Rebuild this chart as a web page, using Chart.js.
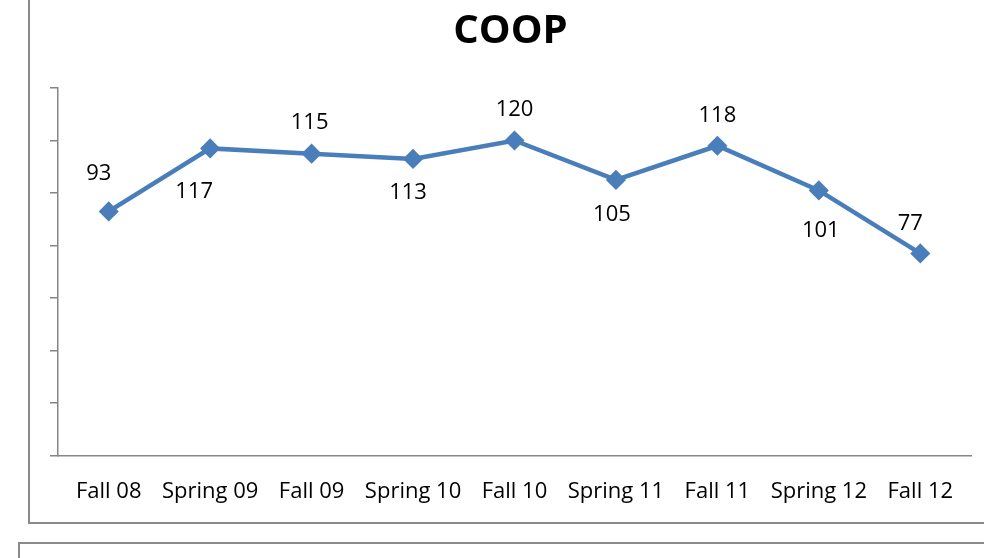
<!DOCTYPE html>
<html>
<head>
<meta charset="utf-8">
<script src="https://cdn.jsdelivr.net/npm/chart.js@4/dist/chart.umd.min.js"></script>
<style>
    html, body { margin: 0; padding: 0; background: #fff; overflow: hidden; }
    .frame { position: absolute; border: 2px solid #8a8a8a; background: transparent; }
    #wrap { position: absolute; left: 0; top: 0; width: 984px; height: 558px; }
</style>
</head>
<body>
<div class="frame" style="left:28px; top:-10px; width:1000px; height:530px;"></div>
<div class="frame" style="left:18px; top:542px; width:1000px; height:60px;"></div>
<div id="wrap"><canvas id="chart" width="984" height="558"></canvas></div>
<script>
const TERMS = ['Fall 08', 'Spring 09', 'Fall 09', 'Spring 10', 'Fall 10', 'Spring 11', 'Fall 11', 'Spring 12', 'Fall 12'];
const COOP = [93, 117, 115, 113, 120, 105, 118, 101, 77];
const Y_MIN = 0, Y_MAX = 140, Y_STEP = 20;

const LINE_BLUE = '#4a7ebb';
const AXIS_GREY = '#868686';
const FONT = '"Open Sans", "DejaVu Sans", sans-serif';

// labels were nudged by hand in the original, alternating above / below the point
const labelOffsets = [[-10, -38], [-16, 43], [-2, -31], [-5, 34], [0, -31], [-4, 35], [0, -30], [2, 40], [-10, -30]];

const pointLabels = {
    id: 'pointLabels',
    afterDatasetsDraw(chart) {
        const ctx = chart.ctx;
        const meta = chart.getDatasetMeta(0);
        ctx.save();
        ctx.font = '22px ' + FONT;
        ctx.fillStyle = '#000';
        ctx.textAlign = 'center';
        ctx.textBaseline = 'middle';
        meta.data.forEach((pt, i) => {
            const off = labelOffsets[i] || [0, -32];
            ctx.fillText(String(COOP[i]), pt.x + off[0], pt.y + off[1]);
        });
        ctx.restore();
    }
};

new Chart(document.getElementById('chart'), {
    type: 'line',
    data: {
        labels: TERMS,
        datasets: [{
            label: 'COOP',
            data: COOP,
            borderColor: LINE_BLUE,
            backgroundColor: LINE_BLUE,
            borderWidth: 4.5,
            pointStyle: 'rectRot',
            pointRadius: 9,
            pointBorderWidth: 1.5,
            pointBackgroundColor: LINE_BLUE,
            pointBorderColor: LINE_BLUE,
            tension: 0
        }]
    },
    options: {
        responsive: false,
        animation: false,
        layout: { padding: { left: 50, right: 13, top: 0, bottom: 38 } },
        plugins: {
            legend: { display: false },
            tooltip: { enabled: false },
            title: {
                display: true,
                text: 'COOP',
                color: '#000',
                font: { family: FONT, size: 40, weight: 'bold' },
                padding: { top: 8, bottom: 32 }
            }
        },
        scales: {
            x: {
                offset: true,
                grid: { display: false },
                border: { display: true, color: AXIS_GREY, width: 1.5 },
                ticks: { color: '#000', font: { family: FONT, size: 22 }, padding: 15, maxRotation: 0, autoSkip: false }
            },
            y: {
                min: Y_MIN, max: Y_MAX,
                grid: { display: true, drawOnChartArea: false, drawTicks: true, tickLength: 8, color: AXIS_GREY, lineWidth: 1.5 },
                border: { display: true, color: AXIS_GREY, width: 1.5 },
                ticks: { display: false, stepSize: Y_STEP }
            }
        }
    },
    plugins: [pointLabels]
});
</script>
</body>
</html>
